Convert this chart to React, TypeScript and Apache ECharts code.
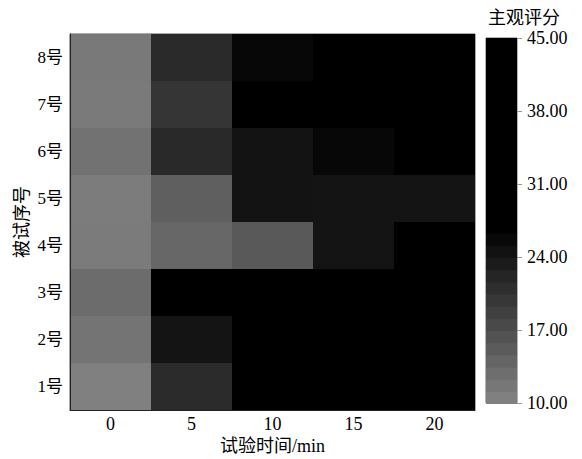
import React, { useEffect, useRef } from "react";
import * as echarts from "echarts";

const timeCategories = ["0", "5", "10", "15", "20"];
const subjectCategories = ["1号", "2号", "3号", "4号", "5号", "6号", "7号", "8号"];

// subjective score per subject over test time (0,5,10,15,20 min)
const subject1 = [10.0, 20.9, 30.5, 33.0, 35.5];
const subject2 = [11.5, 23.8, 31.0, 34.0, 36.0];
const subject3 = [12.6, 30.0, 33.5, 36.0, 38.0];
const subject4 = [10.6, 13.3, 14.9, 23.8, 28.5];
const subject5 = [10.5, 14.2, 23.9, 23.8, 23.8];
const subject6 = [11.8, 21.1, 23.9, 25.4, 28.0];
const subject7 = [10.8, 19.6, 29.0, 31.5, 33.0];
const subject8 = [10.9, 21.0, 25.4, 28.0, 30.0];

const scoreMin = 10;
const scoreMax = 45;
const scoreInterval = 7;
const bandCount = 30;
const greyBands = 14;

const FONT = '"Liberation Serif", "Noto Sans CJK SC", serif';

function grey(g: number) {
  const v = Math.max(0, Math.min(255, Math.round(g)));
  return `rgb(${v},${v},${v})`;
}

export default function App() {
  const ref = useRef<HTMLDivElement>(null);

  useEffect(() => {
    if (!ref.current) return;
    document.body.style.margin = "0";
    const chart = echarts.init(ref.current, undefined, { renderer: "svg" });

    const rows = [subject1, subject2, subject3, subject4, subject5, subject6, subject7, subject8];
    const heatData: number[][] = [];
    rows.forEach((row, yi) => row.forEach((v, xi) => heatData.push([xi, yi, v])));

    const stopColors: string[] = [];
    for (let i = 0; i <= bandCount; i++) {
      stopColors.push(grey(i <= greyBands ? 128 * (1 - i / greyBands) : 0));
    }

    const step = (scoreMax - scoreMin) / bandCount;
    const bands: number[][] = [];
    for (let i = 0; i < greyBands; i++) {
      bands.push([0, scoreMin + i * step, scoreMin + (i + 1) * step, 128 * (1 - i / greyBands)]);
    }
    bands.push([0, scoreMin + greyBands * step, scoreMax, 0]);

    chart.setOption({
      animation: false,
      textStyle: { fontFamily: FONT, color: "#000" },
      title: {
        text: "主观评分",
        left: 488,
        top: 9,
        padding: 0,
        textStyle: { fontFamily: FONT, fontSize: 18, lineHeight: 18, fontWeight: "normal", color: "#000" },
      },
      grid: [
        { left: 70, top: 34, width: 405, height: 376, show: true, borderColor: "#555", borderWidth: 1, backgroundColor: "transparent", outerBoundsMode: "none", containLabel: false },
        { left: 486, top: 38, width: 31, height: 365, show: true, borderColor: "#666", borderWidth: 1, backgroundColor: "transparent", outerBoundsMode: "none", containLabel: false },
      ],
      visualMap: {
        type: "continuous",
        show: false,
        min: scoreMin,
        max: scoreMax,
        seriesIndex: 0,
        dimension: 2,
        inRange: { color: stopColors },
      },
      xAxis: [
        {
          type: "category",
          gridIndex: 0,
          data: timeCategories,
          name: "试验时间/min",
          nameLocation: "middle",
          nameGap: 27,
          nameMoveOverlap: false,
          nameTextStyle: { fontFamily: FONT, fontSize: 18, color: "#000" },
          axisLine: { show: true, lineStyle: { color: "#222" } },
          axisTick: { show: false },
          axisLabel: { fontFamily: FONT, fontSize: 18, color: "#000", margin: 5 },
          splitLine: { show: false },
          z: 5,
        },
        {
          type: "category",
          gridIndex: 1,
          data: [""],
          show: false,
        },
      ],
      yAxis: [
        {
          type: "category",
          gridIndex: 0,
          data: subjectCategories,
          name: "被试序号",
          nameLocation: "middle",
          nameGap: 39,
          nameMoveOverlap: false,
          nameRotate: 90,
          nameTextStyle: { fontFamily: FONT, fontSize: 18, color: "#000" },
          axisLine: { show: true, lineStyle: { color: "#222" } },
          axisTick: { show: false },
          axisLabel: { fontFamily: FONT, fontSize: 17, color: "#000", margin: 7 },
          splitLine: { show: false },
          z: 5,
        },
        {
          type: "value",
          gridIndex: 1,
          position: "right",
          min: scoreMin,
          max: scoreMax,
          interval: scoreInterval,
          axisLine: { show: false },
          axisTick: { show: true, inside: false, length: 5, lineStyle: { color: "#999" } },
          axisLabel: {
            fontFamily: FONT,
            fontSize: 18,
            color: "#000",
            margin: 10,
            formatter: (v: number) => v.toFixed(2),
          },
          splitLine: { show: false },
        },
      ],
      series: [
        {
          type: "custom",
          xAxisIndex: 0,
          yAxisIndex: 0,
          data: heatData,
          encode: { x: 0, y: 1 },
          silent: true,
          renderItem: (params: any, api: any) => {
            const c = api.coord([api.value(0), api.value(1)]);
            const s = api.size([1, 1]);
            const x0 = Math.round(c[0] - s[0] / 2);
            const x1 = Math.round(c[0] + s[0] / 2);
            const y0 = Math.round(c[1] - s[1] / 2);
            const y1 = Math.round(c[1] + s[1] / 2);
            return {
              type: "rect",
              shape: { x: x0, y: y0, width: x1 - x0, height: y1 - y0 },
              style: { fill: api.visual("color"), stroke: null },
            };
          },
          z: 1,
        },
        {
          type: "custom",
          xAxisIndex: 1,
          yAxisIndex: 1,
          data: bands,
          encode: { x: 0, y: [1, 2] },
          silent: true,
          renderItem: (params: any, api: any) => {
            const lo = api.value(1);
            const hi = api.value(2);
            const g = api.value(3);
            const p1 = api.coord([0, lo]);
            const p2 = api.coord([0, hi]);
            const w = api.size([1, 0])[0];
            return {
              type: "rect",
              shape: { x: p1[0] - w / 2, y: p2[1], width: w, height: p1[1] - p2[1] + 1 },
              style: { fill: grey(g) },
            };
          },
          z: 1,
        },
      ],
    });

    return () => chart.dispose();
  }, []);

  return <div ref={ref} style={{ width: 582, height: 459 }} />;
}
